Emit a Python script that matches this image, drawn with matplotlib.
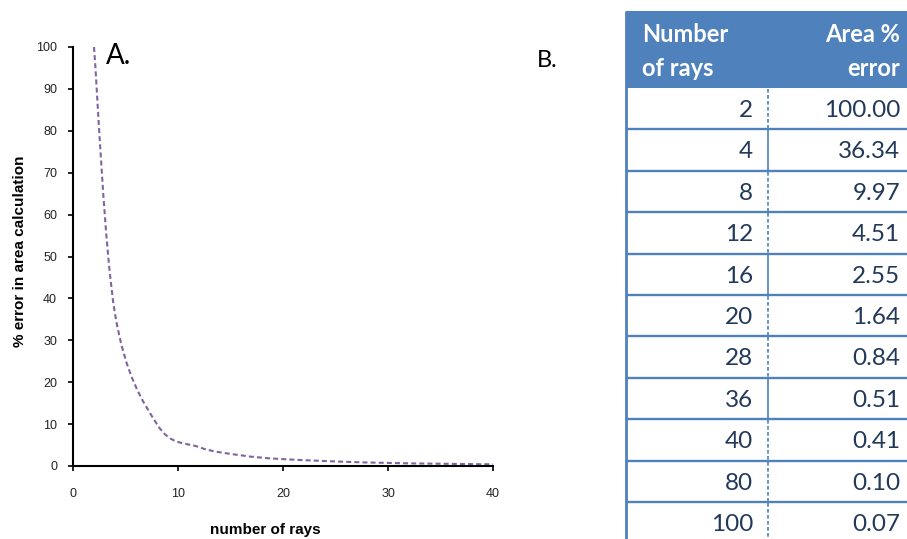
#!/usr/bin/env python3
# -*- coding: utf-8 -*-
"""
% error in area calculation vs number of rays, plot (A) + table (B)
"""

import numpy as np
import matplotlib
matplotlib.use('Agg')
import matplotlib.pyplot as plt
from matplotlib.path import Path
from matplotlib.patches import PathPatch, Rectangle

# data (table B), the plot A uses the rows up to 40 rays
rays = [2, 4, 8, 12, 16, 20, 28, 36, 40, 80, 100]
area_error = [100.00, 36.34, 9.97, 4.51, 2.55, 1.64, 0.84, 0.51, 0.41, 0.10, 0.07]
plot_max_rays = 40

header_left = ['Number', 'of rays']
header_right = ['Area %', 'error']

x_ticks = [0, 10, 20, 30, 40]
y_ticks = [0, 10, 20, 30, 40, 50, 60, 70, 80, 90, 100]

# style of the vertical separator in each table row (as in the picture)
sep_style = ['dash', 'solid', 'dash', 'dash', 'solid', 'dash', 'dash',
             'solid', 'dash', 'dash', 'dash']

LINE_COL = '#8064A2'
BLUE = '#4F81BD'
TXT_COL = '#22395A'


def smooth_path(x, y):
    # excel-like smoothed line: cubic bezier through the points
    pts = np.column_stack([x, y]).astype(float)
    n = len(pts)
    verts = [pts[0]]
    codes = [Path.MOVETO]
    for i in range(n - 1):
        p_prev = pts[max(i - 1, 0)]
        p0 = pts[i]
        p1 = pts[i + 1]
        p_next = pts[min(i + 2, n - 1)]
        c1 = p0 + (p1 - p_prev) / 6.0
        c2 = p1 - (p_next - p0) / 6.0
        verts += [c1, c2, p1]
        codes += [Path.CURVE4] * 3
    return Path(verts, codes)


def main():
    W, H = 907, 539
    fig = plt.figure(figsize=(W / 100, H / 100), dpi=100)

    """
    A. plot
    """
    ax = fig.add_axes([73 / W, 1 - 466 / H, 420 / W, 419 / H])
    xs = [r for r in rays if r <= plot_max_rays]
    ys = area_error[:len(xs)]
    path = smooth_path(xs, ys)
    patch = PathPatch(path, facecolor='none', edgecolor=LINE_COL, lw=1.5,
                      linestyle=(0, (2.4, 1.5)), transform=ax.transData,
                      capstyle='butt')
    ax.add_patch(patch)
    ax.set_xlim(0, 40)
    ax.set_ylim(0, 100)
    ax.set_xticks(x_ticks)
    ax.set_yticks(y_ticks)
    for s in ['top', 'right']:
        ax.spines[s].set_visible(False)
    for s in ['left', 'bottom']:
        ax.spines[s].set_linewidth(1.5)
    ax.tick_params(axis='y', direction='out', length=3.5, width=1.2, pad=8,
                   labelsize=9)
    ax.tick_params(axis='x', direction='out', length=3.5, width=1.2, pad=12,
                   labelsize=9)
    for lab in ax.get_xticklabels() + ax.get_yticklabels():
        lab.set_fontfamily('Liberation Sans')
        lab.set_color('#222222')

    fig.text(265 / W, 1 - 523 / H, 'number of rays', ha='center', va='top',
             fontsize=11, fontweight='bold', family='Liberation Sans')
    fig.text(20 / W, 1 - 251 / H, '% error in area calculation', ha='center',
             va='center', rotation=90, fontsize=11, fontweight='bold',
             family='Liberation Sans')
    fig.text(106 / W, 1 - 64 / H, 'A.', ha='left', va='baseline',
             fontsize=20, family='Lato')

    """
    B. table (drawn in pixel coordinates)
    """
    tab = fig.add_axes([0, 0, 1, 1])
    tab.set_xlim(0, W)
    tab.set_ylim(H, 0)
    tab.axis('off')
    tab.set_zorder(-1)

    fig.text(537 / W, 1 - 67 / H, 'B.', ha='left', va='baseline',
             fontsize=17, family='Lato')

    left, right = 626, W + 5
    sep_x = 767.5
    top, head_bot = 11, 88
    row_h = 41.4

    # header
    tab.add_patch(Rectangle((left, top), right - left, head_bot - top,
                            facecolor=BLUE, edgecolor='none'))
    for k, (tl, tr) in enumerate(zip(header_left, header_right)):
        yb = 42 + 34 * k
        tab.text(642, yb, tl, ha='left', va='baseline', color='white',
                 fontsize=17, fontweight='bold', family='Lato')
        tab.text(900, yb, tr, ha='right', va='baseline', color='white',
                 fontsize=17, fontweight='bold', family='Lato')

    # rows
    for i, (r, e) in enumerate(zip(rays, area_error)):
        y0 = head_bot + row_h * i
        y1 = y0 + row_h
        if i > 0:
            tab.plot([left, right], [y0, y0], color=BLUE, lw=1.7,
                     solid_capstyle='butt')
        ls = '-' if sep_style[i] == 'solid' else (0, (2.2, 1.4))
        tab.plot([sep_x, sep_x], [y0 + 1, y1 - 1], color=BLUE, lw=1.2,
                 linestyle=ls)
        tab.text(753, y0 + 29, '%d' % r, ha='right', va='baseline',
                 color=TXT_COL, fontsize=17.5, family='Lato')
        tab.text(900, y0 + 29, '%.2f' % e, ha='right', va='baseline',
                 color=TXT_COL, fontsize=17.5, family='Lato')

    # left border of the table
    tab.plot([left, left], [top, H + 5], color=BLUE, lw=2,
             solid_capstyle='butt')

    plt.savefig('out.png', dpi=100)


if __name__ == '__main__':
    main()
